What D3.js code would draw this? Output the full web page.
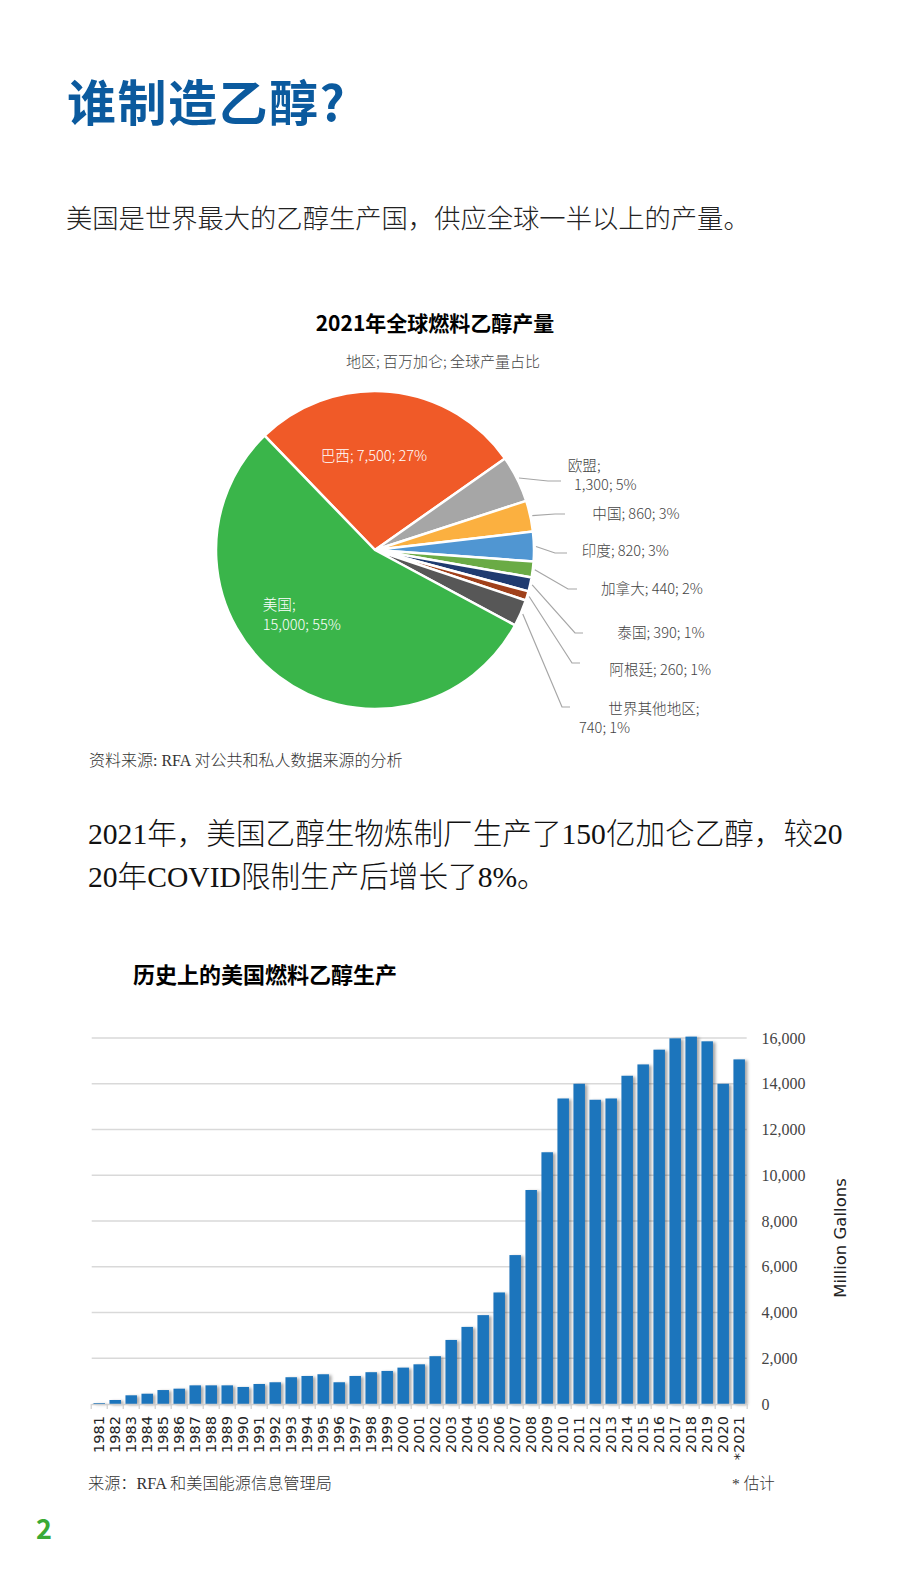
<!DOCTYPE html>
<html>
<head>
<meta charset="utf-8">
<script src="https://cdn.jsdelivr.net/npm/d3@7"></script>
<style>
  html, body { margin: 0; padding: 0; background: #fff; }
  svg { display: block; }
  .cjk { font-family: "Noto Sans CJK SC", sans-serif; }
  .mix { font-family: "Liberation Serif", "Noto Sans CJK SC", serif; }
</style>
</head>
<body>
<div id="chart"></div>
<script>
// pie: 2021 global fuel ethanol production (million gallons)
const regions = ['巴西', '欧盟', '中国', '印度', '加拿大', '泰国', '阿根廷', '世界其他地区', '美国']
const volumes = [7500, 1300, 860, 820, 440, 390, 260, 740, 15000]
const shares = ['27%', '5%', '3%', '3%', '2%', '1%', '1%', '1%', '55%']
const sliceColors = ['#F05A28', '#A6A6A6', '#FBB040', '#5096D2', '#6AAB45', '#1F3B70', '#A0401A', '#575757', '#3AB54A']

// bars: US fuel ethanol production by year (million gallons)
const years = ['1981', '1982', '1983', '1984', '1985', '1986', '1987', '1988', '1989', '1990',
  '1991', '1992', '1993', '1994', '1995', '1996', '1997', '1998', '1999', '2000',
  '2001', '2002', '2003', '2004', '2005', '2006', '2007', '2008', '2009', '2010',
  '2011', '2012', '2013', '2014', '2015', '2016', '2017', '2018', '2019', '2020', '*2021']
const production = [40, 175, 380, 450, 610, 670, 815, 815, 815, 745,
  875, 950, 1170, 1225, 1300, 950, 1225, 1390, 1445, 1590,
  1735, 2090, 2800, 3370, 3885, 4875, 6510, 9355, 11005, 13355,
  14000, 13300, 13355, 14350, 14845, 15490, 15985, 16060, 15855, 14000, 15065]
const yTicks = [0, 2000, 4000, 6000, 8000, 10000, 12000, 14000, 16000]

// layout for the pie labels (leader elbow, leader end, text anchor)
const labelLayout = [
  null,
  { ex: 548, ey: 481, lx: 561, tx: 567.7, ty: 471, tx2: 574, ty2: 490 },
  { ex: 555, ey: 514, lx: 565, tx: 592.3, ty: 518.5 },
  { ex: 555, ey: 553, lx: 567, tx: 581.7, ty: 555.5 },
  { ex: 568, ey: 589, lx: 577, tx: 601, ty: 593.5 },
  { ex: 575, ey: 633, lx: 583, tx: 617.3, ty: 638 },
  { ex: 572, ey: 663, lx: 580, tx: 609.3, ty: 674.5 },
  { ex: 562, ey: 707, lx: 570, tx: 608.3, ty: 714, tx2: 579, ty2: 733 },
  null
]

const W = 920
const H = 1578
const svg = d3.select('#chart').append('svg').attr('width', W).attr('height', H)

const defs = svg.append('defs')
const shadow = defs.append('filter').attr('id', 'barShadow')
  .attr('x', '-30%').attr('y', '-5%').attr('width', '180%').attr('height', '110%')
shadow.append('feDropShadow')
  .attr('dx', 2.5).attr('dy', 1).attr('stdDeviation', 1.4)
  .attr('flood-color', '#000').attr('flood-opacity', 0.35)

// page heading
svg.append('text').attr('class', 'cjk')
  .attr('x', 67).attr('y', 121)
  .attr('font-size', 49).attr('font-weight', 700).attr('fill', '#0B5A9E')
  .attr('letter-spacing', 1.5)
  .text('谁制造乙醇?')

svg.append('text').attr('class', 'cjk')
  .attr('x', 66).attr('y', 228)
  .attr('font-size', 26.3).attr('font-weight', 300).attr('fill', '#222')
  .text('美国是世界最大的乙醇生产国，供应全球一半以上的产量。')

// ---- pie chart ----
const cx = 375
const cy = 550
const r = 159

svg.append('text').attr('class', 'cjk')
  .attr('x', 435).attr('y', 331).attr('text-anchor', 'middle')
  .attr('font-size', 21).attr('font-weight', 700).attr('fill', '#000')
  .text('2021年全球燃料乙醇产量')

svg.append('text').attr('class', 'cjk')
  .attr('x', 443).attr('y', 367).attr('text-anchor', 'middle')
  .attr('font-size', 15).attr('font-weight', 300).attr('fill', '#444')
  .text('地区; 百万加仑; 全球产量占比')

const startDeg = -44
const pie = d3.pie().sort(null)
  .startAngle(startDeg * Math.PI / 180)
  .endAngle((startDeg + 360) * Math.PI / 180)
const arcs = pie(volumes)
const arc = d3.arc().innerRadius(0).outerRadius(r)

const pieG = svg.append('g').attr('transform', `translate(${cx},${cy})`)
pieG.selectAll('path')
  .data(arcs)
  .join('path')
  .attr('d', arc)
  .attr('fill', (d, i) => sliceColors[i])
  .attr('stroke', '#fff')
  .attr('stroke-width', 2.5)
  .attr('stroke-linejoin', 'round')

// leader lines for the small slices
arcs.forEach((d, i) => {
  const L = labelLayout[i]
  if (!L) return
  const a = (d.startAngle + d.endAngle) / 2
  const sx = cx + (r + 2) * Math.sin(a)
  const sy = cy - (r + 2) * Math.cos(a)
  svg.append('polyline')
    .attr('points', `${sx},${sy} ${L.ex},${L.ey} ${L.lx},${L.ey}`)
    .attr('fill', 'none')
    .attr('stroke', '#A6A6A6')
    .attr('stroke-width', 1.2)
})

const fmt = d3.format(',')
const pieLabels = svg.append('g').attr('class', 'cjk')
  .attr('font-size', 14.6).attr('font-weight', 300)

arcs.forEach((d, i) => {
  const L = labelLayout[i]
  if (!L) return
  if (L.tx2 != null) {
    pieLabels.append('text').attr('x', L.tx).attr('y', L.ty).attr('fill', '#444').text(`${regions[i]};`)
    pieLabels.append('text').attr('x', L.tx2).attr('y', L.ty2).attr('fill', '#444')
      .text(`${fmt(volumes[i])}; ${shares[i]}`)
  } else {
    pieLabels.append('text').attr('x', L.tx).attr('y', L.ty).attr('fill', '#444')
      .text(`${regions[i]}; ${fmt(volumes[i])}; ${shares[i]}`)
  }
})

// labels inside the two big slices
pieLabels.append('text').attr('x', 320.7).attr('y', 461).attr('fill', '#fff')
  .text(`${regions[0]}; ${fmt(volumes[0])}; ${shares[0]}`)
pieLabels.append('text').attr('x', 262.7).attr('y', 610).attr('fill', '#fff')
  .text(`${regions[8]};`)
pieLabels.append('text').attr('x', 262.7).attr('y', 629.5).attr('fill', '#fff')
  .text(`${fmt(volumes[8])}; ${shares[8]}`)

svg.append('text').attr('class', 'mix')
  .attr('x', 89).attr('y', 766)
  .attr('font-size', 16).attr('font-weight', 300).attr('fill', '#333')
  .text('资料来源: RFA 对公共和私人数据来源的分析')

// statement
const stmt = svg.append('g').attr('class', 'mix')
  .attr('font-size', 29.6).attr('font-weight', 300).attr('fill', '#111')
stmt.append('text').attr('x', 88).attr('y', 844)
  .text('2021年，美国乙醇生物炼制厂生产了150亿加仑乙醇，较20')
stmt.append('text').attr('x', 88).attr('y', 887)
  .text('20年COVID限制生产后增长了8%。')

// ---- bar chart ----
svg.append('text').attr('class', 'cjk')
  .attr('x', 133).attr('y', 983)
  .attr('font-size', 22).attr('font-weight', 700).attr('fill', '#000')
  .text('历史上的美国燃料乙醇生产')

const x = d3.scaleBand().domain(years).range([91.7, 746.7])
  .paddingInner(0.28).paddingOuter(0.11)
const y = d3.scaleLinear().domain([0, 16000]).range([1404, 1038])

svg.append('g')
  .selectAll('line')
  .data(yTicks.filter(d => d > 0))
  .join('line')
  .attr('x1', 91.7).attr('x2', 746.7)
  .attr('y1', d => y(d)).attr('y2', d => y(d))
  .attr('stroke', '#D9D9D9').attr('stroke-width', 1.5)

svg.append('g')
  .attr('filter', 'url(#barShadow)')
  .selectAll('rect')
  .data(production)
  .join('rect')
  .attr('x', (d, i) => x(years[i]))
  .attr('y', d => y(d))
  .attr('width', x.bandwidth())
  .attr('height', d => y(0) - y(d))
  .attr('fill', '#1C75BC')

// baseline and ticks between bars
const gap = x.step() * x.paddingInner()
svg.append('line')
  .attr('x1', 91.7).attr('x2', 746.7)
  .attr('y1', y(0) + 0.5).attr('y2', y(0) + 0.5)
  .attr('stroke', '#CFCFCF').attr('stroke-width', 1.5)
const tickXs = years.map(d => x(d) - gap / 2)
  .concat([x(years[years.length - 1]) + x.bandwidth() + gap / 2])
svg.append('g').selectAll('line')
  .data(tickXs)
  .join('line')
  .attr('x1', d => d).attr('x2', d => d)
  .attr('y1', y(0)).attr('y2', y(0) + 5)
  .attr('stroke', '#CFCFCF').attr('stroke-width', 1.2)

// year labels
svg.append('g')
  .selectAll('text')
  .data(years)
  .join('text')
  .attr('transform', d => `translate(${x(d) + x.bandwidth() / 2},1416) rotate(-90)`)
  .attr('text-anchor', 'end')
  .attr('dy', '0.36em')
  .attr('font-family', 'DejaVu Sans, sans-serif')
  .attr('font-size', 14.5)
  .attr('fill', '#222')
  .text(d => d)

// value axis on the right
svg.append('g')
  .selectAll('text')
  .data(yTicks)
  .join('text')
  .attr('x', 761.5)
  .attr('y', d => y(d))
  .attr('dy', '0.35em')
  .attr('font-family', 'Liberation Serif, serif')
  .attr('font-size', 16)
  .attr('fill', '#444')
  .text(d => fmt(d))

svg.append('text')
  .attr('transform', 'translate(846,1238) rotate(-90)')
  .attr('text-anchor', 'middle')
  .attr('font-family', 'DejaVu Sans, sans-serif')
  .attr('font-size', 16.5)
  .attr('fill', '#222')
  .text('Million Gallons')

svg.append('text').attr('class', 'mix')
  .attr('x', 88).attr('y', 1489)
  .attr('font-size', 16.2).attr('font-weight', 300).attr('fill', '#333')
  .text('来源：RFA 和美国能源信息管理局')

svg.append('text').attr('class', 'mix')
  .attr('x', 732).attr('y', 1489)
  .attr('font-size', 15.5).attr('font-weight', 300).attr('fill', '#333')
  .text('* 估计')

svg.append('text').attr('class', 'cjk')
  .attr('x', 36).attr('y', 1539)
  .attr('font-size', 27).attr('font-weight', 700).attr('fill', '#3AAA35')
  .text('2')
</script>
</body>
</html>
